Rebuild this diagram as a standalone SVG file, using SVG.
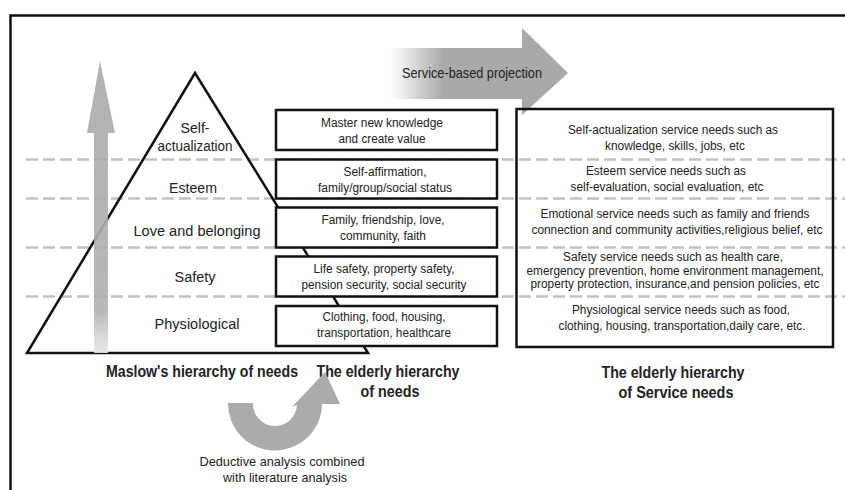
<svg xmlns="http://www.w3.org/2000/svg" width="845" height="490" viewBox="0 0 845 490">
<defs>
<linearGradient id="hfade" x1="390" y1="0" x2="568" y2="0" gradientUnits="userSpaceOnUse">
<stop offset="0" stop-color="#a9a9a9" stop-opacity="0"/>
<stop offset="0.3" stop-color="#a9a9a9" stop-opacity="1"/>
<stop offset="1" stop-color="#a9a9a9" stop-opacity="1"/>
</linearGradient>
<linearGradient id="vfade" x1="0" y1="61" x2="0" y2="353" gradientUnits="userSpaceOnUse">
<stop offset="0" stop-color="#a9a9a9"/>
<stop offset="0.85" stop-color="#b0b0b0"/>
<stop offset="1" stop-color="#e8e8e8"/>
</linearGradient>
<style>
.t{font-family:"Liberation Sans",Arial,sans-serif;fill:#222;text-anchor:middle}
.s12{font-size:12.5px}
.s13{font-size:13px}
.s14{font-size:14px}
.p{font-size:15.5px}
.b{font-size:16px;font-weight:bold}
.dash{stroke:#c2c2c2;stroke-width:2.5;stroke-dasharray:12 5;fill:none}
.box{fill:#fff;stroke:#111;stroke-width:2.5}
</style>
</defs>
<rect width="845" height="490" fill="#fff"/>
<path d="M10.5,490 V15.5 H845" fill="none" stroke="#111" stroke-width="2.5"/>

<g id="levels">
<line class="dash" x1="26" y1="159.5" x2="845" y2="159.5"/>
<line class="dash" x1="26" y1="198.5" x2="845" y2="198.5"/>
<line class="dash" x1="26" y1="247.5" x2="845" y2="247.5"/>
<line class="dash" x1="26" y1="296.5" x2="845" y2="296.5"/>
</g>

<g id="maslow-pyramid">
<polygon points="195,73 368,353 27,353" fill="none" stroke="#111" stroke-width="2.5"/>
<text class="t p" x="195" y="133" textLength="29" lengthAdjust="spacingAndGlyphs">Self-</text>
<text class="t p" x="195" y="151" textLength="75" lengthAdjust="spacingAndGlyphs">actualization</text>
<text class="t p" x="193" y="193" textLength="48" lengthAdjust="spacingAndGlyphs">Esteem</text>
<text class="t p" x="197" y="236" textLength="127" lengthAdjust="spacingAndGlyphs">Love and belonging</text>
<text class="t p" x="195" y="282" textLength="41" lengthAdjust="spacingAndGlyphs">Safety</text>
<text class="t p" x="197" y="329" textLength="85" lengthAdjust="spacingAndGlyphs">Physiological</text>
</g>

<g id="rise-arrow">
<polygon points="100,61 115,133 108,133 108,353 94,353 94,133 87,133" fill="url(#vfade)" opacity="0.9"/>
</g>

<g id="projection-arrow">
<polygon points="390,48 522,48 522,28 568,73 522,115 522,99 390,99" fill="url(#hfade)"/>
<text class="t s14" x="472" y="78" textLength="140" lengthAdjust="spacingAndGlyphs">Service-based projection</text>
</g>

<g id="elderly-needs">
<g id="e1"><rect class="box" x="276" y="110" width="221" height="40"/>
<text class="t s12" x="382" y="127" textLength="122" lengthAdjust="spacingAndGlyphs">Master new knowledge</text>
<text class="t s12" x="382" y="143" textLength="87" lengthAdjust="spacingAndGlyphs">and create value</text></g>
<g id="e2"><rect class="box" x="276" y="159.5" width="221" height="39"/>
<text class="t s12" x="385" y="176" textLength="83" lengthAdjust="spacingAndGlyphs">Self-affirmation,</text>
<text class="t s12" x="385" y="192" textLength="134" lengthAdjust="spacingAndGlyphs">family/group/social status</text></g>
<g id="e3"><rect class="box" x="276" y="207.5" width="221" height="40"/>
<text class="t s12" x="383" y="224" textLength="123" lengthAdjust="spacingAndGlyphs">Family, friendship, love,</text>
<text class="t s12" x="383" y="240" textLength="86" lengthAdjust="spacingAndGlyphs">community, faith</text></g>
<g id="e4"><rect class="box" x="276" y="256.5" width="221" height="40"/>
<text class="t s12" x="384" y="273" textLength="141" lengthAdjust="spacingAndGlyphs">Life safety, property safety,</text>
<text class="t s12" x="384" y="289" textLength="165" lengthAdjust="spacingAndGlyphs">pension security, social security</text></g>
<g id="e5"><rect class="box" x="276" y="306" width="221" height="40"/>
<text class="t s12" x="384" y="321" textLength="123" lengthAdjust="spacingAndGlyphs">Clothing, food, housing,</text>
<text class="t s12" x="384" y="337" textLength="134" lengthAdjust="spacingAndGlyphs">transportation, healthcare</text></g>
</g>

<g id="service-needs">
<rect x="516.5" y="109" width="316.5" height="238" fill="none" stroke="#111" stroke-width="2.5"/>
<text class="t s12" x="673" y="134" textLength="210" lengthAdjust="spacingAndGlyphs">Self-actualization service needs such as</text>
<text class="t s12" x="675" y="150" textLength="140" lengthAdjust="spacingAndGlyphs">knowledge, skills, jobs, etc</text>
<text class="t s12" x="666" y="175" textLength="160" lengthAdjust="spacingAndGlyphs">Esteem service needs such as</text>
<text class="t s12" x="667" y="191" textLength="193" lengthAdjust="spacingAndGlyphs">self-evaluation, social evaluation, etc</text>
<text class="t s12" x="675" y="218" textLength="269" lengthAdjust="spacingAndGlyphs">Emotional service needs such as family and friends</text>
<text class="t s12" x="677" y="234" textLength="291" lengthAdjust="spacingAndGlyphs">connection and community activities,religious belief, etc</text>
<text class="t s12" x="673" y="261" textLength="220" lengthAdjust="spacingAndGlyphs">Safety service needs such as health care,</text>
<text class="t s12" x="675" y="275" textLength="297" lengthAdjust="spacingAndGlyphs">emergency prevention, home environment management,</text>
<text class="t s12" x="675" y="288" textLength="289" lengthAdjust="spacingAndGlyphs">property protection, insurance,and pension policies, etc</text>
<text class="t s12" x="681" y="314" textLength="218" lengthAdjust="spacingAndGlyphs">Physiological service needs such as food,</text>
<text class="t s12" x="682" y="330" textLength="247" lengthAdjust="spacingAndGlyphs">clothing, housing, transportation,daily care, etc.</text>
</g>

<g id="titles">
<text class="t b" x="202" y="377" textLength="192" lengthAdjust="spacingAndGlyphs">Maslow's hierarchy of needs</text>
<text class="t b" x="388" y="377" textLength="143" lengthAdjust="spacingAndGlyphs">The elderly hierarchy</text>
<text class="t b" x="390" y="397" textLength="59" lengthAdjust="spacingAndGlyphs">of needs</text>
<text class="t b" x="673" y="378" textLength="143" lengthAdjust="spacingAndGlyphs">The elderly hierarchy</text>
<text class="t b" x="676" y="398" textLength="115" lengthAdjust="spacingAndGlyphs">of Service needs</text>
</g>

<g id="deduction-arrow">
<path d="M228,403 H253 A22,22 0 0 0 297,405 L292,407 L325,372 L340,404 L322,404 A47,47 0 0 1 228,403 Z" fill="#ababab"/>
<text class="t s13" x="282" y="466" textLength="165" lengthAdjust="spacingAndGlyphs">Deductive analysis combined</text>
<text class="t s13" x="285" y="482" textLength="124" lengthAdjust="spacingAndGlyphs">with literature analysis</text>
</g>
</svg>
